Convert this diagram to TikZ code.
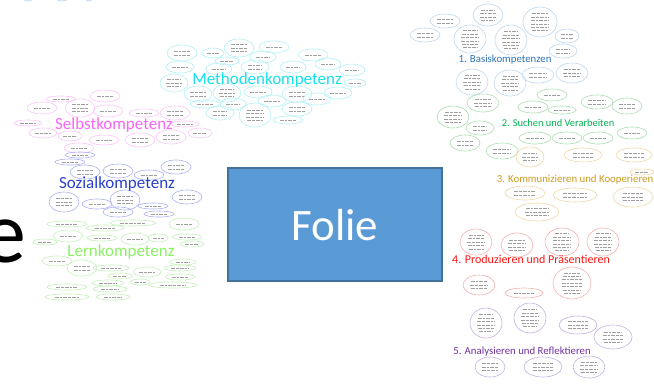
\documentclass[tikz,border=0pt]{standalone}
\usepackage{fontspec}
\setmainfont{Carlito}
\usepackage{tikz}
\usetikzlibrary{calc}
\definecolor{methC}{RGB}{20,225,235}
\definecolor{methL}{RGB}{175,240,245}
\definecolor{selbC}{RGB}{250,100,250}
\definecolor{selbL}{RGB}{250,195,250}
\definecolor{sozC}{RGB}{40,65,205}
\definecolor{sozL}{RGB}{170,175,240}
\definecolor{lernC}{RGB}{140,240,100}
\definecolor{lernL}{RGB}{195,240,185}
\definecolor{basC}{RGB}{46,117,182}
\definecolor{basL}{RGB}{189,215,238}
\definecolor{suchC}{RGB}{0,176,80}
\definecolor{suchL}{RGB}{170,220,175}
\definecolor{komC}{RGB}{205,155,30}
\definecolor{komL}{RGB}{240,215,165}
\definecolor{proC}{RGB}{255,20,20}
\definecolor{proL}{RGB}{245,175,175}
\definecolor{anaC}{RGB}{112,48,160}
\definecolor{anaL}{RGB}{195,175,225}
\definecolor{folieF}{RGB}{91,155,213}
\definecolor{folieD}{RGB}{65,113,156}
\tikzset{
  txtline/.style={line width=0.4pt, color=black!38, dash pattern=on 4pt off 1pt on 2.5pt off 1pt},
  head/.style={inner sep=0pt, font=\fontsize{17}{17}\selectfont}
}
\def\bubble[#1](#2,#3)(#4:#5){%
  \draw[line width=0.6pt, #1] (#2,#3) ellipse [x radius=#4, y radius=#5];
  \pgfmathtruncatemacro\nl{max(1,round((2*#5-8)/3.6))}%
  \foreach \k in {1,...,\nl}{%
    \pgfmathsetmacro\dy{(\k-(\nl+1)/2)*3.4}%
    \pgfmathsetmacro\hw{0.55*#4*sqrt(max(0.05,1-(\dy/#5)^2))}%
    \draw[txtline] ({#2-\hw},{#3+\dy}) -- ({#2+\hw},{#3+\dy});
  }%
}
\begin{document}
\begin{tikzpicture}[x=1pt, y=-1pt]
			%%%%% START %%%%%
			\useasboundingbox (0,0) rectangle (654,384);
			
			% cut-off bits at the top edge
			\draw[basL, line width=0.8pt] (28,-4) ellipse [x radius=6, y radius=5];
			\draw[basL, line width=0.8pt] (62,-4) ellipse [x radius=7, y radius=5];
			\draw[basL, line width=0.8pt] (89,-4) ellipse [x radius=5, y radius=5];
			
			% Methodenkompetenz
			\bubble[methL](182,53)(15:8);
			\bubble[methL](213,53)(11:5);
			\bubble[methL](239,48)(15:9);
			\bubble[methL](274,47)(15:6);
			\bubble[methL](227,61)(12:4);
			\bubble[methL](263,57)(13:6);
			\bubble[methL](313,55)(15:6);
			\bubble[methL](180,67)(14:6);
			\bubble[methL](219,69)(13:6);
			\bubble[methL](255,67)(14:7);
			\bubble[methL](293,67)(13:6);
			\bubble[methL](328,64)(13:6);
			\bubble[methL](352,70)(13:6);
			\bubble[methL](174,83)(14:9);
			\bubble[methL](355,83)(11:4);
			\bubble[methL](198,94)(14:8);
			\bubble[methL](227,93)(14:9);
			\bubble[methL](258,92)(14:6);
			\bubble[methL](297,94)(15:8);
			\bubble[methL](338,93)(14:6);
			\bubble[methL](205,104)(15:4);
			\bubble[methL](233,104)(13:6);
			\bubble[methL](272,101)(14:6);
			\bubble[methL](317,99)(14:6);
			\bubble[methL](220,113)(14:7);
			\bubble[methL](255,115)(16:12);
			\bubble[methL](297,109)(15:7);
			\bubble[methL](288,120)(15:4);
			
			% Selbstkompetenz
			\bubble[selbL](61,99)(15:3);
			\bubble[selbL](105,96)(15:6);
			\bubble[selbL](42,108)(15:6);
			\bubble[selbL](80,108)(15:9);
			\bubble[selbL](108,111)(15:6);
			\bubble[selbL](144,113)(15:4);
			\bubble[selbL](175,113)(15:7);
			\bubble[selbL](28,123)(14:3);
			\bubble[selbL](185,124)(14:3);
			\bubble[selbL](43,133)(14:5);
			\bubble[selbL](70,136)(12:5);
			\bubble[selbL](104,140)(15:5);
			\bubble[selbL](140,140)(15:7);
			\bubble[selbL](171,137)(15:7);
			\bubble[selbL](200,133)(12:5);
			\bubble[selbL](79,148)(15:5);
			
			% Sozialkompetenz
			\bubble[sozL](80,155)(15:3);
			\bubble[sozL](70,162)(15:3);
			\bubble[sozL](85,172)(15:7);
			\bubble[sozL](118,171)(15:7);
			\bubble[sozL](149,175)(15:5);
			\bubble[sozL](176,167)(15:7);
			\bubble[sozL](64,202)(15:10);
			\bubble[sozL](97,204)(15:5);
			\bubble[sozL](125,200)(15:10);
			\bubble[sozL](187,197)(15:7);
			\bubble[sozL](153,206)(15:3);
			\bubble[sozL](118,212)(15:5);
			\bubble[sozL](159,214)(15:3);
			
			% Lernkompetenz
			\bubble[lernL](67,224)(20:3);
			\bubble[lernL](105,228)(19:3);
			\bubble[lernL](133,223)(23:3);
			\bubble[lernL](184,224)(15:6);
			\bubble[lernL](45,242)(12:3);
			\bubble[lernL](68,236)(15:6);
			\bubble[lernL](102,238)(15:3);
			\bubble[lernL](135,239)(14:6);
			\bubble[lernL](158,238)(10:4);
			\bubble[lernL](187,237)(15:3);
			\bubble[lernL](192,244)(12:3);
			\bubble[lernL](57,261)(15:5);
			\bubble[lernL](82,268)(15:8);
			\bubble[lernL](111,268)(18:3);
			\bubble[lernL](120,276)(12:3);
			\bubble[lernL](147,272)(14:5);
			\bubble[lernL](183,262)(13:3);
			\bubble[lernL](180,268)(16:3);
			\bubble[lernL](180,277)(15:3);
			\bubble[lernL](108,283)(16:3);
			\bubble[lernL](140,282)(10:3);
			\bubble[lernL](173,285)(24:3);
			\bubble[lernL](67,287)(20:3);
			\bubble[lernL](110,289)(17:3);
			\bubble[lernL](67,297)(22:3);
			\bubble[lernL](113,297)(17:3);
			
			% 1. Basiskompetenzen
			\bubble[basL](445,21)(15:7);
			\bubble[basL](488,15)(15:11);
			\bubble[basL](540,22)(17:15);
			\bubble[basL](425,35)(15:7);
			\bubble[basL](470,39)(16:14);
			\bubble[basL](511,40)(16:15);
			\bubble[basL](567,36)(12:7);
			\bubble[basL](563,51)(14:7);
			\bubble[basL](472,82)(16:13);
			\bubble[basL](510,83)(16:13);
			\bubble[basL](538,75)(16:8);
			\bubble[basL](572,73)(16:10);
			
			% 2. Suchen und Verarbeiten
			\bubble[suchL](552,95)(15:6);
			\bubble[suchL](483,103)(16:9);
			\bubble[suchL](533,107)(15:6);
			\bubble[suchL](562,110)(14:4);
			\bubble[suchL](597,102)(16:7);
			\bubble[suchL](627,106)(15:8);
			\bubble[suchL](453,117)(16:11);
			\bubble[suchL](480,128)(14:7);
			\bubble[suchL](465,143)(15:8);
			\bubble[suchL](535,138)(16:6);
			\bubble[suchL](567,138)(15:6);
			\bubble[suchL](598,138)(15:6);
			\bubble[suchL](632,133)(15:6);
			\bubble[suchL](502,151)(16:8);
			
			% 3. Kommunizieren und Kooperieren
			\bubble[komL](530,157)(14:10);
			\bubble[komL](583,155)(19:7);
			\bubble[komL](634,155)(18:7);
			\bubble[komL](642,172)(12:3);
			\bubble[komL](525,193)(20:7);
			\bubble[komL](575,195)(22:7);
			\bubble[komL](633,197)(20:10);
			\bubble[komL](537,212)(22:9);
			
			% 4. Produzieren und Praesentieren
			\bubble[proL](476,242)(16:13);
			\bubble[proL](517,245)(16:12);
			\bubble[proL](562,242)(17:14);
			\bubble[proL](603,242)(16:14);
			\bubble[proL](479,285)(16:10);
			\bubble[proL](524,293)(19:5);
			\bubble[proL](572,283)(19:16);
			
			% 5. Analysieren und Reflektieren
			\bubble[anaL](486,323)(16:15);
			\bubble[anaL](530,318)(16:15);
			\bubble[anaL](578,325)(19:9);
			\bubble[anaL](613,337)(19:12);
			\bubble[anaL](490,367)(15:10);
			\bubble[anaL](543,367)(19:10);
			\bubble[anaL](589,367)(16:11);
			
			% headings
			\node[head, color=methC] (methoden) at (267,80) {Methodenkompetenz};
			\node[head, color=selbC] (selbst) at (114,125) {Selbstkompetenz};
			\node[head, color=sozC] (sozial) at (117,184) {Sozialkompetenz};
			\node[head, color=lernC] (lern) at (121,252) {Lernkompetenz};
			\node[head, color=basC, font=\fontsize{10.8}{11}\selectfont] (basis) at (505,60) {1. Basiskompetenzen};
			\node[head, color=suchC, font=\fontsize{10.4}{11}\selectfont] (suchen) at (558,123) {2. Suchen und Verarbeiten};
			\node[head, color=komC, font=\fontsize{10.8}{11}\selectfont] (kommunizieren) at (575,180) {3. Kommunizieren und Kooperieren};
			\node[head, color=proC, font=\fontsize{12}{12}\selectfont] (produzieren) at (531,259) {4. Produzieren und Präsentieren};
			\node[head, color=anaC, font=\fontsize{10.8}{11}\selectfont] (analysieren) at (522,352) {5. Analysieren und Reflektieren};
			
			% slide
			\draw[fill=folieF, draw=folieD, line width=2.2pt] (228,168) rectangle (442,281);
			\node[inner sep=0pt, anchor=base, text=white, font=\fontsize{45}{45}\selectfont] (folie) at (335,240) {Folie};
			\node[inner sep=0pt, anchor=base east, font=\fontsize{88}{88}\selectfont] (rest) at (26,262) {e};
			
			%%%%% END %%%%%
\end{tikzpicture}
\end{document}
